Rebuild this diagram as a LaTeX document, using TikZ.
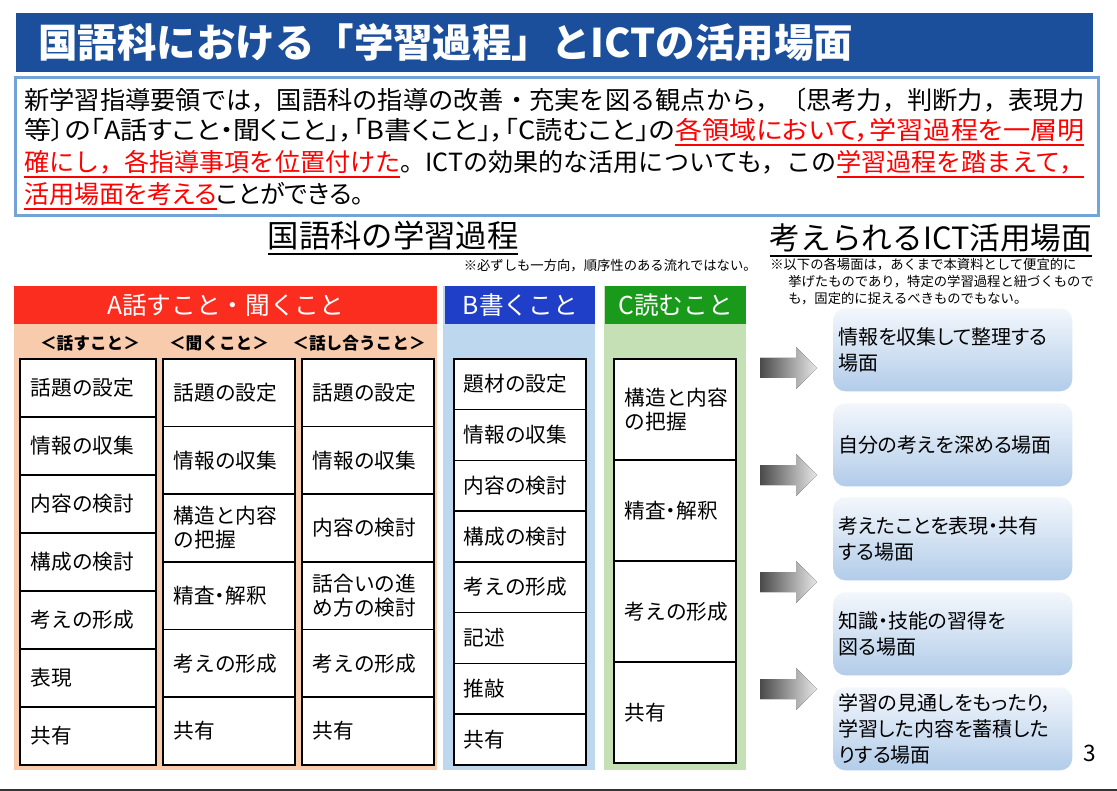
\documentclass[tikz,border=0pt]{standalone}
\usepackage{fontspec}
\usepackage{graphicx}
\setmainfont{Noto Sans CJK JP}
\newfontfamily\jpp{Noto Sans CJK JP}[RawFeature=+palt]
\definecolor{titleblue}{HTML}{1B4F9C}
\definecolor{boxblue}{HTML}{74A3D8}
\definecolor{ared}{HTML}{FA2D1E}
\definecolor{apeach}{HTML}{F8CBAD}
\definecolor{bblue}{HTML}{1F3FC8}
\definecolor{blight}{HTML}{BDD7EE}
\definecolor{cgreen}{HTML}{1A9A1A}
\definecolor{clight}{HTML}{C5E0B4}
\definecolor{ulred}{HTML}{FF0000}
\definecolor{rtop}{HTML}{F3F7FC}
\definecolor{rbot}{HTML}{B2CCE9}
\definecolor{arrdark}{HTML}{4A4A4A}
\definecolor{arrlight}{HTML}{E8E8E8}
\newdimen\pxu \pxu=0.75pt
\newcommand\redul[1]{{\color{ulred}\setbox0=\hbox{#1}\rlap{\rule[-0.24em]{\wd0}{1.2pt}}\box0}}
\newcommand\hdul[1]{{\setbox0=\hbox{#1}\rlap{\rule[-0.24em]{\wd0}{1.3pt}}\box0}}
\tikzset{
  cell/.style={draw=black, line width=1.2pt, fill=white, anchor=north west,
    inner xsep=0pt, inner ysep=0pt, align=left, font=\fontsize{15.5}{18}\selectfont},
  rbox/.style={anchor=north west, minimum width=239\pxu, minimum height=83\pxu,
    rounded corners=12\pxu, top color=rtop, bottom color=rbot, draw=none, inner sep=0pt},
  rtext/.style={anchor=west, align=left, inner sep=0pt, font=\jpp\fontsize{15}{19.5}\selectfont},
  bodyline/.style={anchor=west, inner sep=0pt, font=\fontsize{18.75}{22}\selectfont},
  panel/.style={anchor=north west, inner sep=0pt},
  headtxt/.style={text=white, font=\fontsize{18.5}{20}\selectfont},
  sublabel/.style={font=\bfseries\fontsize{12.5}{14}\selectfont},
  notetxt/.style={inner sep=0pt, font=\fontsize{10}{12}\selectfont}
}
\begin{document}
\begin{tikzpicture}[x=0.75pt,y=-0.75pt]
\useasboundingbox (0,0) rectangle (1117,791);
\fill[white] (0,0) rectangle (1117,791);
\draw[line width=1.5pt, black!80] (0,790) -- (1117,790);

% title
\node[panel, fill=titleblue, minimum width=1077\pxu, minimum height=59\pxu] (title) at (16,13) {};
\node[anchor=west, inner sep=0pt, text=white, font=\bfseries\fontsize{29.6}{32}\selectfont] (titletext) at (38,43) {国語科における「学習過程」とICTの活用場面};

% intro box
\node[panel, draw=boxblue, line width=1.9pt, minimum width=1083\pxu, minimum height=138\pxu] (intro) at (14,76) {};
\node[bodyline] (l1) at (24,100) {\resizebox{1060\pxu}{\height}{新学習指導要領では，国語科の指導の改善・充実を図る観点から，〔思考力，判断力，表現力}};
\node[bodyline] (l2) at (24,132) {\resizebox{1060\pxu}{\height}{\jpp 等〕の「A話すこと・聞くこと」，「B書くこと」，「C読むこと」の\redul{各領域において，学習過程を一層明}}};
\node[bodyline] (l3) at (24,164) {\resizebox{1060\pxu}{\height}{\redul{確にし，各指導事項を位置付けた}。ICTの効果的な活用についても，この\redul{学習過程を踏まえて，}}};
\node[bodyline] (l4) at (24,196) {\jpp\redul{活用場面を考える}ことができる。};

% headings
\node[inner sep=0pt, font=\fontsize{23.5}{26}\selectfont] (h1) at (393,238) {\hdul{国語科の学習過程}};
\node[inner sep=0pt, font=\fontsize{23}{26}\selectfont] (h2) at (931,240) {\hdul{考えられるICT活用場面}};
\node[notetxt, anchor=east] (n1) at (757,266) {※必ずしも一方向，順序性のある流れではない。};
\node[notetxt, anchor=west] (n2a) at (770,265) {※以下の各場面は，あくまで本資料として便宜的に};
\node[notetxt, anchor=west] (n2b) at (788,282) {挙げたものであり，特定の学習過程と紐づくもので};
\node[notetxt, anchor=west] (n2c) at (788,299) {も，固定的に捉えるべきものでもない。};

% panels
\node[panel, fill=apeach, minimum width=423\pxu, minimum height=484\pxu] (Abody) at (14,286) {};
\node[panel, fill=ared, minimum width=423\pxu, minimum height=38\pxu] (Ahead) at (14,286) {};
\node[headtxt] (Atext) at (Ahead.center) {A話すこと・聞くこと};
\node[panel, fill=blight, minimum width=152\pxu, minimum height=484\pxu] (Bbody) at (443,286) {};
\node[panel, fill=bblue, minimum width=150\pxu, minimum height=38\pxu] (Bhead) at (445,286) {};
\node[headtxt] (Btext) at (Bhead.center) {B書くこと};
\node[panel, fill=clight, minimum width=142\pxu, minimum height=484\pxu] (Cbody) at (604,286) {};
\node[panel, fill=cgreen, minimum width=141\pxu, minimum height=38\pxu] (Chead) at (605,286) {};
\node[headtxt] (Ctext) at (Chead.center) {C読むこと};

\node[sublabel] (s1) at (90,343) {＜話すこと＞};
\node[sublabel] (s2) at (219,343) {＜聞くこと＞};
\node[sublabel] (s3) at (359,343) {＜話し合うこと＞};

% A columns
\foreach \t [count=\i] in {話題の設定,情報の収集,内容の検討,構成の検討,考えの形成,表現,共有}
  \node[cell, minimum width=136\pxu, minimum height=58\pxu, text width=114\pxu] (a1-\i) at (19,{358+(\i-1)*58}) {\t};
\foreach \t [count=\i] in {話題の設定,情報の収集,{構造と内容\\の把握},{\jpp 精査・解釈},考えの形成,共有}
  \node[cell, minimum width=132\pxu, minimum height=67.67\pxu, text width=110\pxu] (a2-\i) at (162,{358+(\i-1)*67.67}) {\t};
\foreach \t [count=\i] in {話題の設定,情報の収集,内容の検討,{話合いの進\\め方の検討},考えの形成,共有}
  \node[cell, minimum width=132\pxu, minimum height=67.67\pxu, text width=110\pxu] (a3-\i) at (301,{358+(\i-1)*67.67}) {\t};
% B column
\foreach \t [count=\i] in {題材の設定,情報の収集,内容の検討,構成の検討,考えの形成,記述,推敲,共有}
  \node[cell, minimum width=132\pxu, minimum height=50.75\pxu, text width=112\pxu] (b-\i) at (453,{358+(\i-1)*50.75}) {\t};
% C column
\foreach \t [count=\i] in {{構造と内容\\の把握},{\jpp 精査・解釈},考えの形成,共有}
  \node[cell, minimum width=122\pxu, minimum height=101\pxu, text width=100\pxu] (c-\i) at (613,{358+(\i-1)*101}) {\t};

% arrows
\foreach \y in {368,475,582,689}
  \fill[left color=arrdark, right color=arrlight] (760,{\y-10}) -- (796,{\y-10}) -- (796,{\y-21}) -- (817,\y) -- (796,{\y+21}) -- (796,{\y+10}) -- (760,{\y+10}) -- cycle;

% right boxes
\foreach \yy/\t [count=\i] in {308/{情報を収集して整理する\\場面},403/{自分の考えを深める場面},497/{考えたことを表現・共有\\する場面},592/{知識・技能の習得を\\図る場面},687/{学習の見通しをもったり，\\学習した内容を蓄積した\\りする場面}}{
  \node[rbox] (r\i) at (833,\yy) {};
  \node[rtext] (rt\i) at ([xshift=5\pxu]r\i.west) {\t};
}

\node[inner sep=0pt, font=\fontsize{17}{20}\selectfont] (pg) at (1090,753) {3};
\end{tikzpicture}
\end{document}
